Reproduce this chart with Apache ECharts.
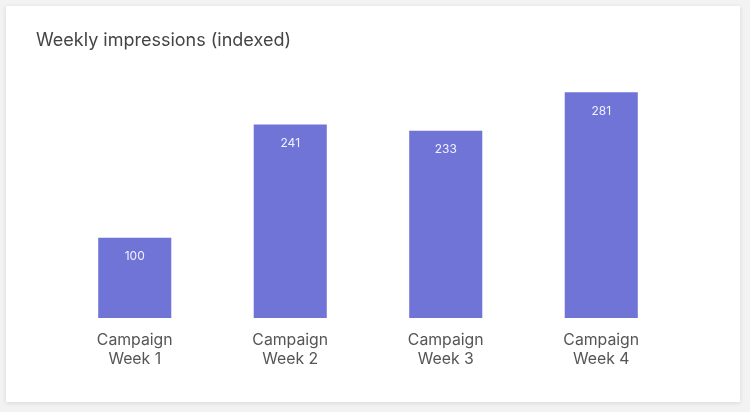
<!DOCTYPE html>
<html>
<head>
<meta charset="utf-8">
<script src="https://cdn.jsdelivr.net/npm/echarts@6/dist/echarts.min.js"></script>
<style>
  html, body { margin: 0; padding: 0; background: #f3f3f3; }
  #card {
    position: absolute; left: 6px; top: 6px; width: 734px; height: 396px;
    background: #fff; box-shadow: 0 1px 5px rgba(0,0,0,0.12);
  }
  #chart { position: absolute; left: 0; top: 0; width: 750px; height: 412px; }
</style>
</head>
<body>
<div id="card"></div>
<div id="chart"></div>
<script>
// 周次
var weeks = ['Campaign\nWeek 1', 'Campaign\nWeek 2', 'Campaign\nWeek 3', 'Campaign\nWeek 4'];
// 指数化曝光量
var impressions = [100, 241, 233, 281];

var myChart = echarts.init(document.getElementById('chart'));

var option = {
    animation: false,
    title: {
        text: 'Weekly impressions (indexed)',
        left: 31,
        top: 27,
        textStyle: {
            fontFamily: 'Inter',
            fontSize: 18,
            fontWeight: 'normal',
            color: '#444'
        }
    },
    grid: {
        left: 57,
        right: 71,
        top: 77,
        bottom: 94
    },
    xAxis: {
        type: 'category',
        data: weeks,
        axisLine: { show: false },
        axisTick: { show: false },
        axisLabel: {
            margin: 13,
            fontFamily: 'Inter',
            fontSize: 15.8,
            lineHeight: 19,
            color: '#555'
        }
    },
    yAxis: {
        type: 'value',
        min: 0,
        max: 300,
        show: false,
        splitLine: { show: false }
    },
    series: [
        {
            type: 'bar',
            data: impressions,
            barWidth: '47%',
            itemStyle: { color: '#7074d7' },
            label: {
                show: true,
                position: 'insideTop',
                distance: 13,
                fontFamily: 'Inter',
                fontSize: 12,
                color: '#f2f2ff'
            }
        }
    ]
};

myChart.setOption(option);
</script>
</body>
</html>
